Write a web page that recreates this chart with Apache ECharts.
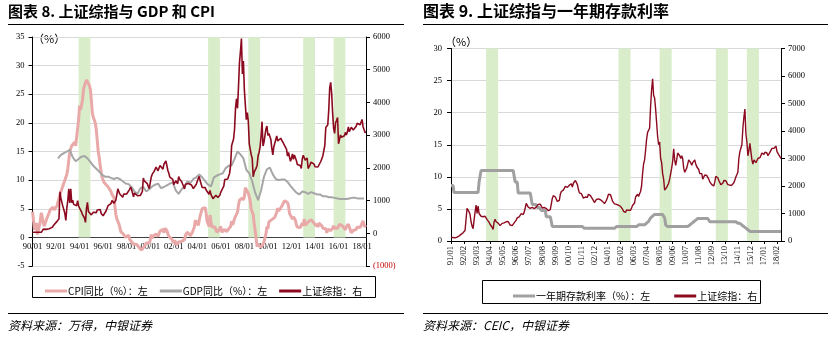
<!DOCTYPE html>
<html>
<head>
<meta charset="utf-8">
<script src="https://cdn.jsdelivr.net/npm/echarts@6/dist/echarts.min.js"></script>
<style>
  html, body { margin: 0; padding: 0; background: #fff; }
  #chart { width: 835px; height: 340px; }
</style>
</head>
<body>
<div id="chart"></div>
<script>
// ---------- Figure 8: SSE Composite vs GDP and CPI (monthly, 1990/01 - 2018/05) ----------
const cpiYoY = [
  4.5, 3.0, 1.3, 2.0, 2.5, 0.5, 0.8, 2.0, 3.0, 4.3, 3.5, 2.5,      // 1990
  2.0, 2.5, 3.0, 3.5, 3.8, 4.3, 4.8, 4.6, 5.0, 5.3, 4.8, 4.5,      // 1991
  5.0, 5.5, 6.2, 6.8, 7.5, 8.0, 8.5, 9.0, 9.5, 10.0, 10.5, 11.0,   // 1992
  12.0, 13.5, 15.0, 15.5, 16.0, 16.0, 16.2, 16.6, 16.0, 17.5, 19.0, 20.5, // 1993
  23.0, 22.3, 22.0, 24.0, 25.8, 26.5, 27.0, 27.5, 27.8, 27.7, 26.5, 25.8, // 1994
  24.0, 21.7, 21.0, 20.5, 20.0, 18.8, 17.0, 15.0, 14.0, 12.5, 11.4, 10.5, // 1995
  10.0, 9.6, 9.8, 9.5, 9.0, 8.8, 8.6, 8.5, 8.0, 7.5, 7.2, 7.0,     // 1996
  5.5, 4.0, 3.2, 2.8, 2.4, 1.8, 1.0, 0.8, 0.8, 0.5, 0.3, 0.0,      // 1997
  -0.2, -0.3, 0.4, -0.3, -0.6, -0.8, -1.0, -1.2, -1.4, -1.2, -1.2, -1.0, // 1998
  -1.2, -1.8, -1.9, -2.2, -2.0, -2.0, -1.6, -1.3, -1.0, -0.8, -1.0, -1.0, // 1999
  -0.5, 0.5, -0.2, 0.2, 0.3, 0.5, 0.6, 0.5, 0.2, 0.3, 1.1, 1.3,    // 2000
  1.2, 1.4, 0.8, 1.6, 1.7, 1.2, 0.6, 0.2, 0.0, 0.2, -0.3, -0.3,    // 2001
  -1.0, -0.5, -0.8, -1.3, -1.1, -0.8, -0.9, -0.7, -0.7, -0.8, -0.5, -0.4, // 2002
  0.4, 0.5, 0.9, 1.0, 0.7, 0.3, 0.5, 0.9, 1.1, 1.8, 3.0, 3.2,      // 2003
  3.2, 2.1, 3.0, 3.8, 4.4, 5.0, 5.3, 5.3, 5.2, 4.3, 2.8, 2.4,      // 2004
  1.9, 3.9, 2.7, 1.8, 1.8, 1.6, 1.8, 1.3, 0.9, 1.2, 1.3, 1.6,      // 2005
  1.9, 0.9, 0.8, 1.2, 1.4, 1.5, 1.0, 1.3, 1.5, 1.4, 1.9, 2.8,      // 2006
  2.2, 2.7, 3.3, 3.0, 3.4, 4.4, 5.6, 6.5, 6.2, 6.5, 6.9, 6.5,      // 2007
  7.1, 8.7, 8.3, 8.5, 7.7, 7.1, 6.3, 4.9, 4.6, 4.0, 2.4, 1.2,      // 2008
  1.0, -1.6, -1.2, -1.5, -1.4, -1.7, -1.8, -1.2, -0.8, -0.5, 0.6, 1.9, // 2009
  1.5, 2.7, 2.4, 2.8, 3.1, 2.9, 3.3, 3.5, 3.6, 4.4, 5.1, 4.6,      // 2010
  4.9, 4.9, 5.4, 5.3, 5.5, 6.4, 6.5, 6.2, 6.1, 5.5, 4.2, 4.1,      // 2011
  4.5, 3.2, 3.6, 3.4, 3.0, 2.2, 1.8, 2.0, 1.9, 1.7, 2.0, 2.5,      // 2012
  2.0, 3.2, 2.1, 2.4, 2.1, 2.7, 2.7, 2.6, 3.1, 3.2, 3.0, 2.5,      // 2013
  2.5, 2.0, 2.4, 1.8, 2.5, 2.3, 2.3, 2.0, 1.6, 1.6, 1.4, 1.5,      // 2014
  0.8, 1.4, 1.4, 1.5, 1.2, 1.4, 1.6, 2.0, 1.6, 1.3, 1.5, 1.6,      // 2015
  1.8, 2.3, 2.3, 2.3, 2.0, 1.9, 1.8, 1.3, 1.9, 2.1, 2.3, 2.1,      // 2016
  2.5, 0.8, 0.9, 1.2, 1.5, 1.5, 1.4, 1.8, 1.6, 1.9, 1.7, 1.8,      // 2017
  1.5, 2.9, 2.1, 1.8, 1.8                                          // 2018
];

// GDP YoY, quarterly from 1992Q1 to 2018Q1
const gdpYoYQuarterly = [
  13.8, 14.4, 14.7, 15.0,  // 1992
  15.3, 14.0, 13.3, 13.7,  // 1993
  14.1, 14.2, 13.8, 13.2,  // 1994
  12.5, 12.0, 11.5, 10.9,  // 1995
  10.6, 10.6, 10.4, 10.2,  // 1996
  10.4, 10.2, 9.8, 9.4,    // 1997
  9.3, 8.8, 8.0, 7.6,      // 1998
  8.6, 8.8, 8.0, 8.4,      // 1999
  8.9, 9.2, 9.4, 8.6,      // 2000
  8.8, 9.1, 9.4, 9.6,      // 2001
  8.2, 7.6, 8.4, 8.9,      // 2002
  9.8, 9.5, 10.2, 10.5,    // 2003
  11.0, 10.5, 9.8, 9.2,    // 2004
  8.9, 10.5, 10.8, 11.0,   // 2005
  11.2, 12.1, 12.5, 12.6,  // 2006
  13.7, 15.0, 14.5, 13.8,  // 2007
  11.8, 11.2, 9.8, 7.8,    // 2008
  6.5, 8.2, 10.6, 11.9,    // 2009
  12.2, 11.0, 10.2, 10.0,  // 2010
  10.1, 10.1, 9.7, 9.0,    // 2011
  8.4, 7.8, 7.5, 8.0,      // 2012
  7.9, 7.6, 7.9, 7.7,      // 2013
  7.5, 7.5, 7.2, 7.2,      // 2014
  7.0, 7.0, 6.9, 6.8,      // 2015
  6.7, 6.7, 6.7, 6.8,      // 2016
  6.9, 6.9, 6.8, 6.8,      // 2017
  6.8                      // 2018
];

// SSE Composite, month-end close
const sseClose = [
  30, 30, 30, 30, 30, 30, 30, 30, 30, 30, 30, 127,                 // 1990
  130, 134, 120, 114, 115, 137, 145, 180, 180, 218, 259, 293,      // 1991
  313, 364, 372, 446, 1266, 1067, 1016, 815, 720, 601, 393, 780,   // 1992
  1000, 1358, 925, 1358, 934, 1008, 884, 888, 901, 844, 1000, 834, // 1993
  770, 775, 654, 568, 575, 467, 334, 757, 947, 669, 677, 648,      // 1994
  563, 549, 643, 600, 701, 631, 711, 716, 704, 726, 608, 555,      // 1995
  537, 565, 547, 682, 643, 843, 836, 852, 905, 1004, 1026, 917,    // 1996
  966, 1013, 1179, 1357, 1315, 1199, 1187, 1208, 1099, 1198, 1182, 1194, // 1997
  1200, 1205, 1242, 1343, 1411, 1339, 1316, 1113, 1230, 1217, 1248, 1147, // 1998
  1135, 1090, 1158, 1120, 1280, 1690, 1601, 1627, 1556, 1518, 1436, 1367, // 1999
  1535, 1715, 1800, 1836, 1894, 1929, 2024, 2022, 1911, 1962, 2070, 2073, // 2000
  2066, 1960, 2112, 2120, 2214, 2218, 1920, 1834, 1717, 1689, 1747, 1646, // 2001
  1491, 1524, 1604, 1657, 1515, 1732, 1655, 1670, 1581, 1507, 1437, 1358, // 2002
  1500, 1512, 1510, 1521, 1577, 1487, 1477, 1421, 1367, 1349, 1398, 1497, // 2003
  1590, 1675, 1742, 1595, 1555, 1400, 1386, 1342, 1396, 1321, 1341, 1266, // 2004
  1191, 1306, 1181, 1159, 1060, 1080, 1083, 1162, 1155, 1092, 1099, 1161, // 2005
  1258, 1299, 1298, 1440, 1642, 1672, 1612, 1658, 1753, 1837, 2099, 2675, // 2006
  2786, 2881, 3183, 3841, 4109, 3820, 4471, 5218, 5552, 5955, 4871, 5262, // 2007
  4383, 4348, 3473, 3693, 3433, 2736, 2775, 2397, 2293, 1729, 1871, 1821, // 2008
  1991, 2082, 2373, 2477, 2632, 2959, 3412, 2667, 2779, 2996, 3195, 3277, // 2009
  2989, 3051, 3110, 2870, 2592, 2398, 2638, 2639, 2656, 2979, 2820, 2808, // 2010
  2791, 2905, 2928, 2911, 2743, 2762, 2701, 2567, 2359, 2468, 2333, 2199, // 2011
  2292, 2428, 2263, 2396, 2373, 2225, 2103, 2047, 2086, 2069, 1980, 2269, // 2012
  2385, 2366, 2237, 2178, 2301, 1979, 1994, 2098, 2175, 2141, 2220, 2116, // 2013
  2033, 2056, 2033, 2026, 2039, 2048, 2202, 2218, 2364, 2420, 2683, 3235, // 2014
  3210, 3310, 3748, 4442, 4612, 4277, 3664, 3206, 3053, 3383, 3445, 3539, // 2015
  2738, 2688, 3004, 2938, 2917, 2930, 2979, 3085, 3005, 3100, 3250, 3104, // 2016
  3159, 3242, 3223, 3155, 3117, 3192, 3273, 3361, 3349, 3393, 3317, 3307, // 2017
  3481, 3259, 3169, 3082, 3095                                             // 2018
];

// ---------- Figure 9: SSE Composite vs 1-year deposit rate (monthly, 1991/01 - 2018/06) ----------
const depositRate = [
  8.64, 8.64, 8.64, 7.56, 7.56, 7.56, 7.56, 7.56, 7.56, 7.56, 7.56, 7.56,   // 1991
  7.56, 7.56, 7.56, 7.56, 7.56, 7.56, 7.56, 7.56, 7.56, 7.56, 7.56, 7.56,   // 1992
  7.56, 7.56, 7.56, 7.56, 9.18, 9.18, 10.98, 10.98, 10.98, 10.98, 10.98, 10.98, // 1993
  10.98, 10.98, 10.98, 10.98, 10.98, 10.98, 10.98, 10.98, 10.98, 10.98, 10.98, 10.98, // 1994
  10.98, 10.98, 10.98, 10.98, 10.98, 10.98, 10.98, 10.98, 10.98, 10.98, 10.98, 10.98, // 1995
  10.98, 10.98, 10.98, 10.98, 9.18, 9.18, 9.18, 7.47, 7.47, 7.47, 7.47, 7.47, // 1996
  7.47, 7.47, 7.47, 7.47, 7.47, 7.47, 7.47, 7.47, 7.47, 5.67, 5.67, 5.67,   // 1997
  5.67, 5.67, 5.22, 5.22, 5.22, 5.22, 4.77, 4.77, 4.77, 4.77, 4.77, 3.78,   // 1998
  3.78, 3.78, 3.78, 3.78, 3.78, 2.25, 2.25, 2.25, 2.25, 2.25, 2.25, 2.25,   // 1999
  2.25, 2.25, 2.25, 2.25, 2.25, 2.25, 2.25, 2.25, 2.25, 2.25, 2.25, 2.25,   // 2000
  2.25, 2.25, 2.25, 2.25, 2.25, 2.25, 2.25, 2.25, 2.25, 2.25, 2.25, 2.25,   // 2001
  2.25, 1.98, 1.98, 1.98, 1.98, 1.98, 1.98, 1.98, 1.98, 1.98, 1.98, 1.98,   // 2002
  1.98, 1.98, 1.98, 1.98, 1.98, 1.98, 1.98, 1.98, 1.98, 1.98, 1.98, 1.98,   // 2003
  1.98, 1.98, 1.98, 1.98, 1.98, 1.98, 1.98, 1.98, 1.98, 2.25, 2.25, 2.25,   // 2004
  2.25, 2.25, 2.25, 2.25, 2.25, 2.25, 2.25, 2.25, 2.25, 2.25, 2.25, 2.25,   // 2005
  2.25, 2.25, 2.25, 2.25, 2.25, 2.25, 2.25, 2.52, 2.52, 2.52, 2.52, 2.52,   // 2006
  2.52, 2.52, 2.79, 2.79, 3.06, 3.06, 3.33, 3.60, 3.87, 3.87, 3.87, 4.14,   // 2007
  4.14, 4.14, 4.14, 4.14, 4.14, 4.14, 4.14, 4.14, 4.14, 3.60, 2.52, 2.25,   // 2008
  2.25, 2.25, 2.25, 2.25, 2.25, 2.25, 2.25, 2.25, 2.25, 2.25, 2.25, 2.25,   // 2009
  2.25, 2.25, 2.25, 2.25, 2.25, 2.25, 2.25, 2.25, 2.25, 2.50, 2.50, 2.75,   // 2010
  2.75, 3.00, 3.00, 3.25, 3.25, 3.25, 3.50, 3.50, 3.50, 3.50, 3.50, 3.50,   // 2011
  3.50, 3.50, 3.50, 3.50, 3.50, 3.25, 3.00, 3.00, 3.00, 3.00, 3.00, 3.00,   // 2012
  3.00, 3.00, 3.00, 3.00, 3.00, 3.00, 3.00, 3.00, 3.00, 3.00, 3.00, 3.00,   // 2013
  3.00, 3.00, 3.00, 3.00, 3.00, 3.00, 3.00, 3.00, 3.00, 3.00, 2.75, 2.75,   // 2014
  2.75, 2.75, 2.50, 2.50, 2.25, 2.00, 2.00, 1.75, 1.75, 1.50, 1.50, 1.50,   // 2015
  1.50, 1.50, 1.50, 1.50, 1.50, 1.50, 1.50, 1.50, 1.50, 1.50, 1.50, 1.50,   // 2016
  1.50, 1.50, 1.50, 1.50, 1.50, 1.50, 1.50, 1.50, 1.50, 1.50, 1.50, 1.50,   // 2017
  1.50, 1.50, 1.50, 1.50, 1.50, 1.50                                        // 2018
];

// SSE Composite, monthly level
const sseMonthly = [
  131, 133, 128, 117, 113, 125, 140, 160, 180, 200, 240, 280,      // 1991
  300, 340, 380, 430, 1190, 1150, 1060, 960, 700, 540, 450, 760,   // 1992
  1050, 1310, 1000, 1270, 1000, 950, 900, 900, 880, 850, 900, 860, // 1993
  780, 770, 680, 600, 560, 500, 420, 700, 790, 700, 680, 650,      // 1994
  590, 560, 600, 640, 700, 660, 680, 700, 720, 710, 650, 580,      // 1995
  545, 560, 580, 660, 640, 760, 840, 830, 880, 940, 1000, 1000,    // 1996
  960, 1050, 1200, 1370, 1320, 1230, 1180, 1190, 1150, 1220, 1190, 1180, // 1997
  1220, 1230, 1250, 1330, 1370, 1340, 1310, 1200, 1200, 1220, 1240, 1180, // 1998
  1130, 1100, 1150, 1140, 1200, 1550, 1650, 1600, 1600, 1520, 1440, 1380, // 1999
  1480, 1700, 1800, 1820, 1850, 1900, 1990, 2030, 1950, 1950, 2030, 2060, // 2000
  2080, 1960, 2100, 2140, 2200, 2230, 2050, 1880, 1750, 1700, 1720, 1680, // 2001
  1560, 1520, 1600, 1640, 1590, 1700, 1720, 1650, 1600, 1530, 1460, 1400, // 2002
  1450, 1510, 1500, 1530, 1560, 1500, 1480, 1440, 1390, 1360, 1400, 1480, // 2003
  1580, 1700, 1740, 1680, 1570, 1450, 1380, 1350, 1420, 1330, 1340, 1300, // 2004
  1240, 1260, 1210, 1160, 1080, 1050, 1040, 1130, 1160, 1120, 1090, 1120, // 2005
  1200, 1290, 1290, 1380, 1600, 1650, 1700, 1620, 1720, 1800, 2000, 2450, // 2006
  2800, 2950, 3300, 3700, 3950, 3900, 4100, 4900, 5500, 5900, 5300, 5200, // 2007
  4800, 4300, 3800, 3500, 3600, 3000, 2850, 2450, 2250, 1850, 1800, 1950, // 2008
  1950, 2100, 2250, 2450, 2650, 2900, 3350, 2950, 2750, 2950, 3200, 3250, // 2009
  3100, 3000, 3100, 3000, 2650, 2500, 2550, 2650, 2600, 2950, 2950, 2850, // 2010
  2750, 2850, 2900, 2950, 2800, 2700, 2750, 2600, 2450, 2400, 2450, 2250, // 2011
  2250, 2400, 2350, 2380, 2380, 2250, 2150, 2100, 2050, 2100, 2000, 2150, // 2012
  2350, 2400, 2300, 2200, 2250, 2050, 2000, 2100, 2200, 2180, 2190, 2150, // 2013
  2050, 2060, 2030, 2050, 2030, 2050, 2120, 2220, 2330, 2370, 2500, 3000, // 2014
  3250, 3280, 3500, 4100, 4500, 4800, 3900, 3600, 3100, 3300, 3550, 3550, // 2015
  2950, 2800, 2950, 2950, 2850, 2900, 3000, 3050, 3030, 3080, 3200, 3200, // 2016
  3150, 3230, 3240, 3200, 3100, 3150, 3230, 3300, 3370, 3380, 3370, 3300, // 2017
  3450, 3250, 3250, 3120, 3100, 3000                                       // 2018
];

// Shaded periods (start month, end month)
const shadedPeriods = [
  ['93/12', '94/12'],
  ['04/12', '05/12'],
  ['08/05', '09/05'],
  ['13/01', '14/01'],
  ['15/08', '16/08']
];

// Month labels "YY/MM"
function monthLabels(startYear, count) {
  const out = [];
  for (let i = 0; i < count; i++) {
    const y = startYear + Math.floor(i / 12);
    const m = (i % 12) + 1;
    out.push(String(y % 100).padStart(2, '0') + '/' + String(m).padStart(2, '0'));
  }
  return out;
}
const months1 = monthLabels(1990, cpiYoY.length);
const months2 = monthLabels(1991, depositRate.length);

// Quarterly GDP placed on the quarter-end month of the monthly axis
const gdpMonthly = months1.map(() => null);
gdpYoYQuarterly.forEach((v, q) => { gdpMonthly[24 + q * 3 + 2] = v; });

const SERIF = '"Liberation Serif", "Times New Roman", serif';
const CJK = '"Noto Sans CJK SC", sans-serif';
const RED = '#8C0A1F';
const BAND = '#D9EDCA';
const TICK_FONT = 8.5;

// Left panel plot box: the category axis sits on the 0 line of the left scale
const G1 = { top: 37, bottom: 266, min: -5, max: 35 };
const zeroShift1 = -(G1.bottom - G1.top) * (0 - G1.min) / (G1.max - G1.min);

function bands(yMin, yMax) {
  return shadedPeriods.map(p => [{ xAxis: p[0], yAxis: yMin }, { xAxis: p[1], yAxis: yMax }]);
}

const axisBlack = { show: true, onZero: false, lineStyle: { color: '#000', width: 1 } };

const chart = echarts.init(document.getElementById('chart'), null, { renderer: 'canvas' });
chart.setOption({
  animation: false,
  backgroundColor: '#fff',
  grid: [
    { left: 32.5, right: 469, top: G1.top, bottom: 340 - G1.bottom },
    { left: 451, right: 54, top: 48.5, bottom: 99 }
  ],
  xAxis: [
    {
      type: 'category', gridIndex: 0, data: months1, boundaryGap: false,
      position: 'bottom', offset: zeroShift1,
      axisLine: { show: true, onZero: false, lineStyle: { color: '#404040', width: 1 } },
      axisTick: { show: false },
      axisLabel: {
        interval: (i) => i % 24 === 0,
        fontFamily: SERIF, fontSize: TICK_FONT, color: '#000', margin: 5
      },
      splitLine: { show: false }
    },
    {
      type: 'category', gridIndex: 1, data: months2, boundaryGap: false,
      axisLine: axisBlack,
      axisTick: { show: true, interval: 12, length: 3, lineStyle: { color: '#000' } },
      axisLabel: {
        interval: 12, rotate: 90,
        fontFamily: SERIF, fontSize: TICK_FONT, color: '#000', margin: 5
      },
      splitLine: { show: false }
    }
  ],
  yAxis: [
    {
      type: 'value', gridIndex: 0, min: G1.min, max: G1.max, interval: 5,
      axisLine: axisBlack,
      axisTick: { show: true, length: 4, lineStyle: { color: '#000' } },
      axisLabel: { fontFamily: SERIF, fontSize: TICK_FONT, color: '#000', margin: 8 },
      splitLine: { show: true, lineStyle: { color: '#D9D9D9', width: 1 } }
    },
    {
      type: 'value', gridIndex: 0, position: 'right', min: -1000, max: 6000, interval: 1000,
      axisLine: axisBlack,
      axisTick: { show: true, length: 4, lineStyle: { color: '#000' } },
      axisLabel: {
        fontFamily: SERIF, fontSize: TICK_FONT, margin: 7,
        formatter: (v) => v < 0 ? '(' + (-v) + ')' : String(v),
        color: (v) => (Number(v) < 0 ? '#C00000' : '#000')
      },
      splitLine: { show: false }
    },
    {
      type: 'value', gridIndex: 1, min: 0, max: 30, interval: 5,
      axisLine: axisBlack,
      axisTick: { show: true, length: 4, lineStyle: { color: '#000' } },
      axisLabel: { fontFamily: SERIF, fontSize: TICK_FONT, color: '#000', margin: 9 },
      splitLine: { show: true, lineStyle: { color: '#D9D9D9', width: 1 } }
    },
    {
      type: 'value', gridIndex: 1, position: 'right', min: 0, max: 7000, interval: 1000,
      axisLine: axisBlack,
      axisTick: { show: true, length: 4, lineStyle: { color: '#000' } },
      axisLabel: {
        fontFamily: SERIF, fontSize: TICK_FONT, color: '#000', margin: 7,
        formatter: (v) => String(v)
      },
      splitLine: { show: false }
    }
  ],
  legend: [
    {
      left: 40, top: 281, orient: 'horizontal',
      itemWidth: 22, itemHeight: 3, itemGap: 12, icon: 'rect',
      textStyle: { fontFamily: CJK, fontSize: 10, color: '#000', padding: [0, 0, 0, -4] },
      data: ['CPI同比（%）：左', 'GDP同比（%）：左', '上证综指：右'],
      selectedMode: false
    },
    {
      left: 508, top: 286, orient: 'horizontal',
      itemWidth: 22, itemHeight: 3, itemGap: 24, icon: 'rect',
      textStyle: { fontFamily: CJK, fontSize: 10, color: '#000', padding: [0, 0, 0, -4] },
      data: ['一年期存款利率（%）：左', '上证综指：右'],
      selectedMode: false
    }
  ],
  series: [
    {
      name: 'CPI同比（%）：左', type: 'line', xAxisIndex: 0, yAxisIndex: 0,
      data: cpiYoY, symbol: 'none', color: '#E9A9A9',
      lineStyle: { width: 3, color: '#E9A9A9' },
      markArea: { silent: true, itemStyle: { color: BAND }, data: bands(0, 35) },
      z: 2
    },
    {
      name: 'GDP同比（%）：左', type: 'line', xAxisIndex: 0, yAxisIndex: 0,
      data: gdpMonthly, connectNulls: true, symbol: 'none', color: '#A6A6A6',
      lineStyle: { width: 2, color: '#A6A6A6' }, z: 3
    },
    {
      name: '上证综指：右', type: 'line', xAxisIndex: 0, yAxisIndex: 1,
      data: sseClose, symbol: 'none', color: RED,
      lineStyle: { width: 1.6, color: RED }, z: 4
    },
    {
      name: '一年期存款利率（%）：左', type: 'line', xAxisIndex: 1, yAxisIndex: 2,
      data: depositRate, symbol: 'none', color: '#A0A0A0',
      lineStyle: { width: 3, color: '#A0A0A0' },
      markArea: { silent: true, itemStyle: { color: BAND }, data: bands(0, 30) },
      z: 2
    },
    {
      name: '上证综指：右', type: 'line', xAxisIndex: 1, yAxisIndex: 3,
      data: sseMonthly, symbol: 'none', color: RED,
      lineStyle: { width: 1.4, color: RED }, z: 4
    }
  ],
  graphic: [
    // titles
    { type: 'text', left: 8, top: 4, style: { text: '图表 8. 上证综指与 GDP 和 CPI', font: 'bold 15px "Noto Sans CJK SC", sans-serif', fill: '#000' } },
    { type: 'text', left: 423, top: 3, style: { text: '图表 9. 上证综指与一年期存款利率', font: 'bold 16px "Noto Sans CJK SC", sans-serif', fill: '#000' } },
    // rules under titles and above sources
    { type: 'line', shape: { x1: 8, y1: 24.5, x2: 404, y2: 24.5 }, style: { stroke: '#000', lineWidth: 1.2 } },
    { type: 'line', shape: { x1: 423, y1: 24.5, x2: 828, y2: 24.5 }, style: { stroke: '#000', lineWidth: 1.2 } },
    { type: 'line', shape: { x1: 8, y1: 313.5, x2: 404, y2: 313.5 }, style: { stroke: '#000', lineWidth: 1.2 } },
    { type: 'line', shape: { x1: 423, y1: 313.5, x2: 828, y2: 313.5 }, style: { stroke: '#000', lineWidth: 1.2 } },
    // unit labels
    { type: 'text', left: 33, top: 33, style: { text: '（%）', font: '11px "Noto Sans CJK SC", sans-serif', fill: '#000' } },
    { type: 'text', left: 445, top: 36, style: { text: '（%）', font: '11px "Noto Sans CJK SC", sans-serif', fill: '#000' } },
    // legend frames
    { type: 'rect', shape: { x: 32.5, y: 276.5, width: 343, height: 21 }, style: { fill: 'none', stroke: '#000', lineWidth: 1 } },
    { type: 'rect', shape: { x: 482.5, y: 280.5, width: 278, height: 23 }, style: { fill: 'none', stroke: '#000', lineWidth: 1 } },
    // sources
    { type: 'text', left: 8, top: 319, style: { text: '资料来源：万得，中银证券', font: 'italic 12px "Noto Sans CJK SC", sans-serif', fill: '#000' } },
    { type: 'text', left: 423, top: 319, style: { text: '资料来源：CEIC，中银证券', font: 'italic 12px "Noto Sans CJK SC", sans-serif', fill: '#000' } }
  ]
});
</script>
</body>
</html>
